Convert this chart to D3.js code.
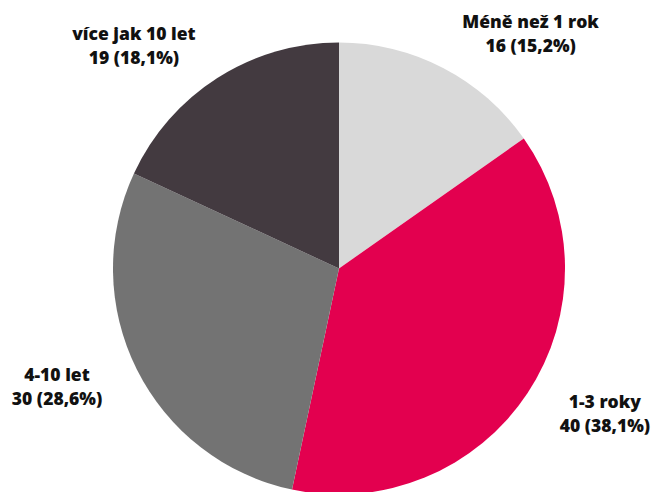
<!DOCTYPE html>
<html>
<head>
<meta charset="utf-8">
<script src="https://cdn.jsdelivr.net/npm/d3@7"></script>
<style>
  html, body { margin: 0; padding: 0; background: #ffffff; overflow: hidden; }
  svg { display: block; }
</style>
</head>
<body>
<svg id="chart" width="654" height="492"></svg>
<script>
// Délka členství – počty odpovědí
const categories = ["Méně než 1 rok", "1-3 roky", "4-10 let", "více jak 10 let"];
const counts = [16, 40, 30, 19];
const percentLabels = ["15,2%", "38,1%", "28,6%", "18,1%"];
const sliceColors = ["#d9d9d9", "#e3004f", "#737373", "#433a40"];

// Label nudges from the slice mid-angle anchor (layout only)
const labelNudge = [[52, 28], [13, -27], [-11, -23], [-42, 27]];

const width = 654, height = 492;
const cx = 339, cy = 268.5, radius = 226, labelRadius = 303;

const svg = d3.select("#chart");
const g = svg.append("g").attr("transform", `translate(${cx},${cy})`);

const data = categories.map((c, i) => ({ name: c, value: counts[i], pct: percentLabels[i], color: sliceColors[i], nudge: labelNudge[i] }));

const pie = d3.pie().sort(null).value(d => d.value);
const arcs = pie(data);

const arc = d3.arc().innerRadius(0).outerRadius(radius);
const labelArc = d3.arc().innerRadius(labelRadius).outerRadius(labelRadius);

g.selectAll("path.slice")
  .data(arcs)
  .join("path")
  .attr("class", "slice")
  .attr("d", arc)
  .attr("fill", d => d.data.color);

const labels = g.selectAll("text.label")
  .data(arcs)
  .join("text")
  .attr("class", "label")
  .attr("text-anchor", "middle")
  .attr("font-family", "'Open Sans', sans-serif")
  .attr("font-weight", 800)
  .attr("font-size", 17.5)
  .attr("fill", "#111111")
  .attr("transform", d => {
    const [x, y] = labelArc.centroid(d);
    return `translate(${x + d.data.nudge[0]},${y + d.data.nudge[1]})`;
  });

labels.append("tspan")
  .attr("x", 0).attr("y", 0)
  .text(d => d.data.name);

labels.append("tspan")
  .attr("x", 0).attr("y", 24)
  .text(d => `${d.data.value} (${d.data.pct})`);
</script>
</body>
</html>
